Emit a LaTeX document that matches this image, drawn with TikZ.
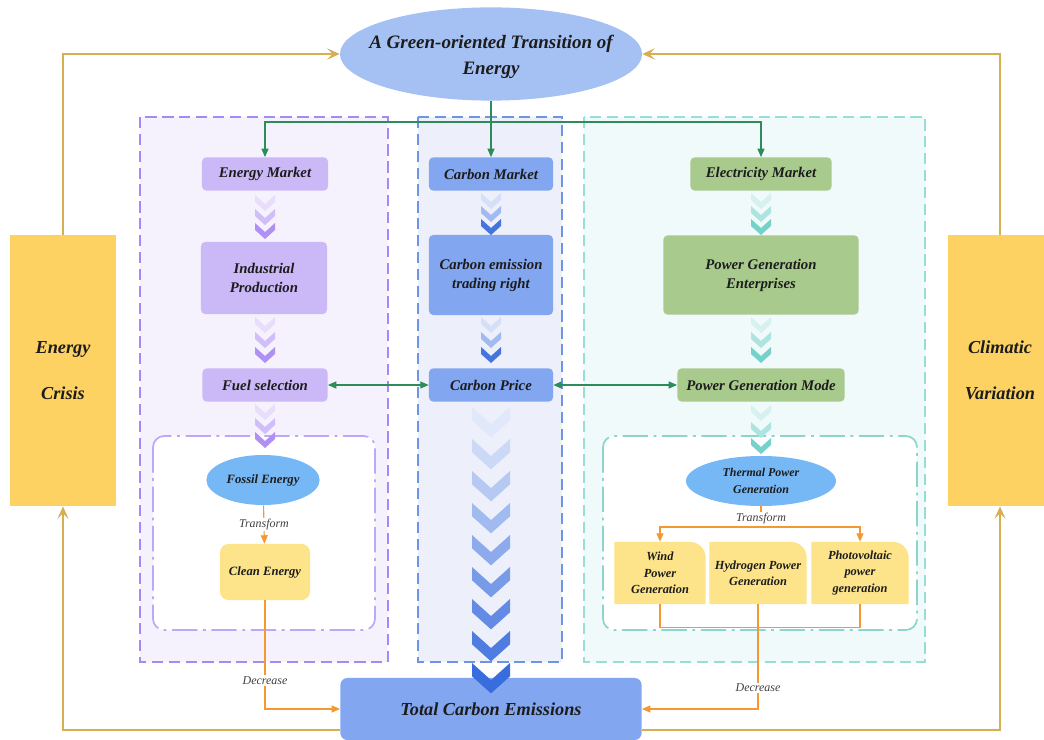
\documentclass[tikz,border=0pt]{standalone}
\usepackage{fontspec}
\setmainfont{Liberation Serif}
\usetikzlibrary{arrows.meta,shapes.geometric}

\definecolor{txt}{HTML}{1C1C1C}
\definecolor{lav}{HTML}{CAB8F7}
\definecolor{purdash}{HTML}{A68AF4}
\definecolor{purbg}{HTML}{F5F2FE}
\definecolor{purin}{HTML}{BCA8F6}
\definecolor{chpur}{HTML}{A27CF0}
\definecolor{bluebox}{HTML}{82A6F0}
\definecolor{bluedash}{HTML}{6E94E6}
\definecolor{bluebg}{HTML}{EDF0FA}
\definecolor{chblue}{HTML}{2F65DC}
\definecolor{grnbox}{HTML}{A9CA8D}
\definecolor{tealdash}{HTML}{97DFD6}
\definecolor{tealbg}{HTML}{F0FAFA}
\definecolor{tealin}{HTML}{8DD5CB}
\definecolor{chteal}{HTML}{5EC9BE}
\definecolor{ovalblue}{HTML}{76B8F5}
\definecolor{topoval}{HTML}{A5C0F3}
\definecolor{ylw}{HTML}{FDE48A}
\definecolor{gold}{HTML}{FDD262}
\definecolor{goldline}{HTML}{D8AE52}
\definecolor{org}{HTML}{F4992F}
\definecolor{arrgreen}{HTML}{2E8B5A}

% one chevron: x, y (top), scale, colour
\newcommand{\chev}[4]{\fill[#4,shift={(#1,#2)},scale=#3] (-10,0) -- (0,9) -- (10,0) -- (10,7) -- (0,16) -- (-10,7) -- cycle;}

\tikzset{
  box/.style={rectangle, rounded corners=3pt, text=txt, align=center, inner sep=1pt,
    font=\fontsize{10.5}{13.5}\selectfont\bfseries\itshape},
  sidebox/.style={rectangle, fill=gold, text=txt, align=center, minimum width=2.65cm,
    minimum height=6.78cm, font=\fontsize{13}{33}\selectfont\bfseries\itshape},
  oval/.style={ellipse, fill=ovalblue, inner sep=0pt, text=txt, align=center,
    font=\fontsize{8.5}{12}\selectfont\bfseries\itshape},
  ycard/.style={rectangle, inner sep=1pt, text=txt, align=center,
    font=\fontsize{8.8}{11.7}\selectfont\bfseries\itshape,
    path picture={\fill[ylw] (path picture bounding box.south west) -- (path picture bounding box.north west)
      -- ([xshift=-11pt]path picture bounding box.north east) arc[start angle=90,end angle=0,radius=11pt]
      -- (path picture bounding box.south east) -- cycle;}},
  lbl/.style={fill=white, inner sep=1pt, text=black!75, font=\fontsize{8.5}{10}\selectfont\itshape},
  garrow/.style={arrgreen, line width=0.8pt, -{Triangle[length=6pt,width=5pt]}},
  gboth/.style={arrgreen, line width=0.8pt, {Triangle[length=6pt,width=5pt]}-{Triangle[length=6pt,width=5pt]}},
  oline/.style={org, line width=0.8pt},
  oarrow/.style={oline, -{Triangle[length=6pt,width=5pt]}},
  goldarr/.style={goldline, line width=0.8pt, -{Stealth[length=9pt,width=8pt,inset=4pt]}},
  panel/.style={line width=2pt, dash pattern=on 8pt off 4pt},
  inbox/.style={fill=white, line width=1.2pt, rounded corners=8pt, dash pattern=on 18pt off 4pt on 2pt off 4pt}
}

\begin{document}
\begin{tikzpicture}[x=0.025cm,y=-0.025cm]
  \useasboundingbox (0,0) rectangle (1044,740);
  \fill[white] (0,0) rectangle (1044,740);

  % three columns
  \draw[panel, draw=purdash, fill=purbg] (140,117) rectangle (388,662);
  \draw[panel, draw=bluedash, fill=bluebg] (418,117) rectangle (562,662);
  \draw[panel, draw=tealdash, fill=tealbg] (584,117) rectangle (925,662);
  \draw[inbox, draw=purin] (153,436) rectangle (375,630);
  \draw[inbox, draw=tealin] (603,436) rectangle (917,630);

  \node[ellipse, fill=topoval, minimum width=7.55cm, minimum height=2.33cm,
    label={[text=txt, align=center, font=\fontsize{13.5}{18}\selectfont\bfseries\itshape, yshift=-2pt]center:A Green-oriented Transition of\\Energy}]
    (green_trans) at (491,54) {};
  \node[sidebox] (crisis) at (63,370.5) {Energy\\Crisis};
  \node[sidebox, minimum width=2.6cm] (climate) at (1000,370.5) {Climatic\\Variation};

  \node[box, fill=lav, minimum width=3.15cm, minimum height=0.83cm] (energy_mkt) at (265,174) {Energy Market};
  \node[box, fill=lav, minimum width=3.15cm, minimum height=1.8cm] (ind_prod) at (264,278) {Industrial\\Production};
  \node[box, fill=lav, minimum width=3.13cm, minimum height=0.83cm] (fuel_sel) at (265,385) {Fuel selection};

  \node[box, fill=bluebox, minimum width=3.1cm, minimum height=0.83cm] (carbon_mkt) at (491,174) {Carbon Market};
  \node[box, fill=bluebox, minimum width=3.1cm, minimum height=2cm] (trade_right) at (491,275) {Carbon emission\\trading right};
  \node[box, fill=bluebox, minimum width=3.1cm, minimum height=0.83cm] (carbon_price) at (491,385) {Carbon Price};

  \node[box, fill=grnbox, minimum width=3.53cm, minimum height=0.83cm] (elec_mkt) at (761,174) {Electricity Market};
  \node[box, fill=grnbox, minimum width=4.88cm, minimum height=1.98cm] (pg_ent) at (761,275) {Power Generation\\Enterprises};
  \node[box, fill=grnbox, minimum width=4.18cm, minimum height=0.83cm] (pg_mode) at (761,385) {Power Generation Mode};

  \node[oval, minimum width=2.83cm, minimum height=1.25cm, font=\fontsize{9}{12}\selectfont\bfseries\itshape] (fossil) at (263,480) {Fossil Energy};
  \node[box, fill=ylw, rounded corners=6pt, minimum width=2.25cm, minimum height=1.4cm,
    font=\fontsize{9}{12}\selectfont\bfseries\itshape] (clean) at (265,572) {Clean Energy};

  \node[oval, minimum width=3.75cm, minimum height=1.25cm] (thermal) at (761,481) {Thermal Power\\Generation};
  \node[ycard, minimum width=2.28cm, minimum height=1.55cm] (wind) at (660,573) {Wind\\Power\\Generation};
  \node[ycard, minimum width=2.43cm, minimum height=1.55cm] (hydrogen) at (758,573) {Hydrogen Power\\Generation};
  \node[ycard, minimum width=2.43cm, minimum height=1.55cm] (pv) at (860,573) {Photovoltaic\\power\\generation};

  % chevrons
  \foreach \y/\p in {195/25,209/50,223/85} {\chev{265}{\y}{1}{chpur!\p!white}}
  \foreach \y/\p in {317/25,332/50,347/85} {\chev{265}{\y}{1}{chpur!\p!white}}
  \foreach \y/\p in {404/25,418/50,432/85} {\chev{265}{\y}{1}{chpur!\p!white}}
  \foreach \y/\p in {193/20,206/45,219/90} {\chev{491}{\y}{1}{chblue!\p!white}}
  \foreach \y/\p in {317/20,332/45,347/90} {\chev{491}{\y}{1}{chblue!\p!white}}
  \foreach \y/\p in {193/25,206/50,219/85} {\chev{761}{\y}{1}{chteal!\p!white}}
  \foreach \y/\p in {317/25,332/50,347/85} {\chev{761}{\y}{1}{chteal!\p!white}}
  \foreach \y/\p in {405/25,422/50,438/85} {\chev{761}{\y}{1}{chteal!\p!white}}

  \node[box, fill=bluebox, rounded corners=5pt, minimum width=7.53cm, minimum height=1.55cm,
    font=\fontsize{13}{15}\selectfont\bfseries\itshape] (total) at (491,709) {Total Carbon Emissions};

  \foreach \i in {0,...,8} {
    \pgfmathtruncatemacro\p{15+\i*10}
    \chev{491}{407+32*\i}{1.9}{chblue!\p!white}
  }

  % green connectors
  \coordinate (g_split) at (491,122);
  \draw[garrow] (green_trans.south) -- (carbon_mkt.north);
  \draw[garrow] (g_split) -| (energy_mkt.north);
  \draw[garrow] (g_split) -| (elec_mkt.north);
  \draw[gboth] (fuel_sel) -- (carbon_price);
  \draw[gboth] (carbon_price) -- (pg_mode);

  % orange connectors
  \draw[oarrow] (fossil) -- node[lbl]{Transform} (clean);
  \coordinate (t_split) at (761,527);
  \draw[oline] (thermal) -- node[lbl, pos=.6]{Transform} (t_split);
  \draw[oarrow] (t_split) -| (wind.north);
  \draw[oarrow] (t_split) -| (pv.north);
  \draw[oline] (wind.south) -- ++(0,23) -| (pv.south);
  \draw[oarrow] (hydrogen.south) |- node[lbl, pos=.4]{Decrease} (total.east);
  \draw[oarrow] (clean.south) |- node[lbl, pos=.37]{Decrease} (total.west);

  % gold loop
  \draw[goldarr] (crisis.north) |- (green_trans.west);
  \draw[goldarr] (climate.north) |- (green_trans.east);
  \draw[goldarr] (total.west |- 0,730) -| (crisis.south);
  \draw[goldarr] (total.east |- 0,730) -| (climate.south);
\end{tikzpicture}
\end{document}
